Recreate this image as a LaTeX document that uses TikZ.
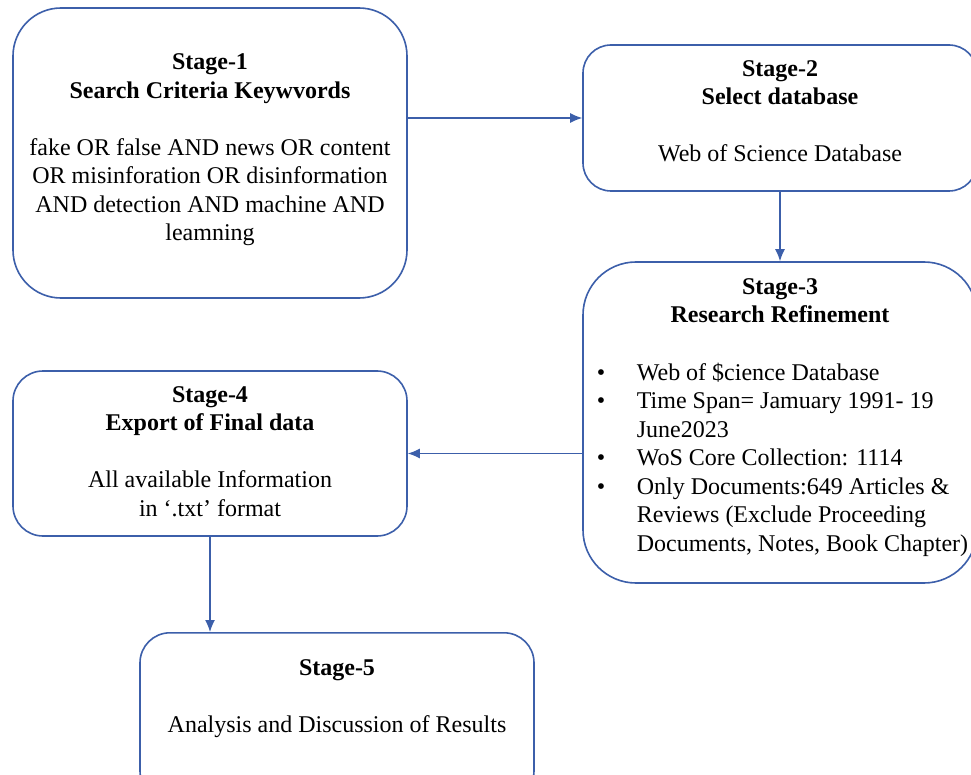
\documentclass[tikz,border=0pt]{standalone}
\usepackage{xcolor}
\usepackage{fontspec}
\setmainfont{Liberation Serif}
\usepackage{tikz}
\usetikzlibrary{positioning, arrows.meta}

\definecolor{stageblue}{RGB}{60,95,170}

\begin{document}
\begin{tikzpicture}[
    x=1pt, y=-1pt,
    every node/.style={
        align=center,
        font=\fontsize{24}{28.5}\selectfont
    },
    stagebox/.style={
        draw=stageblue,
        line width=1.6pt,
        minimum width=394pt,
        inner sep=0pt
    },
    arrow/.style={-{Latex[length=12pt,width=10pt]}, draw=stageblue, line width=1.3pt}
]

\useasboundingbox[fill=white] (0,0) rectangle (971,775);
\clip (0,0) rectangle (971,775);

\node (stageone) [stagebox, rounded corners=48pt, minimum height=290pt,
    text depth=11pt] at (210,153)
    {\textbf{Stage-1}\\\textbf{Search Criteria Keywvords}\\[28.5pt]
     fake OR false AND news OR content\\
     OR misinforation OR disinformation\\
     AND detection AND machine AND\\
     leamning};

\node (stagetwo) [stagebox, rounded corners=28pt, minimum height=146pt,
    text depth=14pt] at (780,118)
    {\textbf{Stage-2}\\\textbf{Select database}\\[28.5pt]
     Web of Science Database};

\node (stagethree) [stagebox, rounded corners=53pt, minimum height=321pt,
    text depth=186pt] at (780,422.5)
    {\textbf{Stage-3}\\\textbf{Research Refinement}\\[29pt]
     \begin{tabular}[t]{@{}p{45pt}@{}l@{}}
     \hspace{5pt}\textbullet & Web of \$cience Database\\
     \hspace{5pt}\textbullet & Time Span= Jamuary 1991- 19\\
      & June2023\\
     \hspace{5pt}\textbullet & WoS Core Collection: 1114\\
     \hspace{5pt}\textbullet & Only Documents:649 Articles \&\\
      & Reviews (Exclude Proceeding\\
      & Documents, Notes, Book Chapter)
     \end{tabular}};

\node (stagefour) [stagebox, rounded corners=30pt, minimum height=165pt,
    text depth=4pt] at (210,453.5)
    {\textbf{Stage-4}\\\textbf{Export of Final data}\\[28.5pt]
     All available Information\\
     in `.txt' format};

\node (stagefive) [stagebox, rounded corners=30pt, minimum height=168pt,
    text depth=41pt, anchor=north] at (337,632)
    {\textbf{Stage-5}\\[28.5pt]
     Analysis and Discussion of Results};

\draw[arrow] (stageone.east |- stagetwo.west) -- (stagetwo.west);
\draw[arrow] (stagetwo) -- (stagethree);
\draw[arrow] (stagethree.west |- stagefour.east) -- (stagefour.east);
\draw[arrow] (stagefour.south) -- (stagefour.south |- stagefive.north);

\end{tikzpicture}
\end{document}
